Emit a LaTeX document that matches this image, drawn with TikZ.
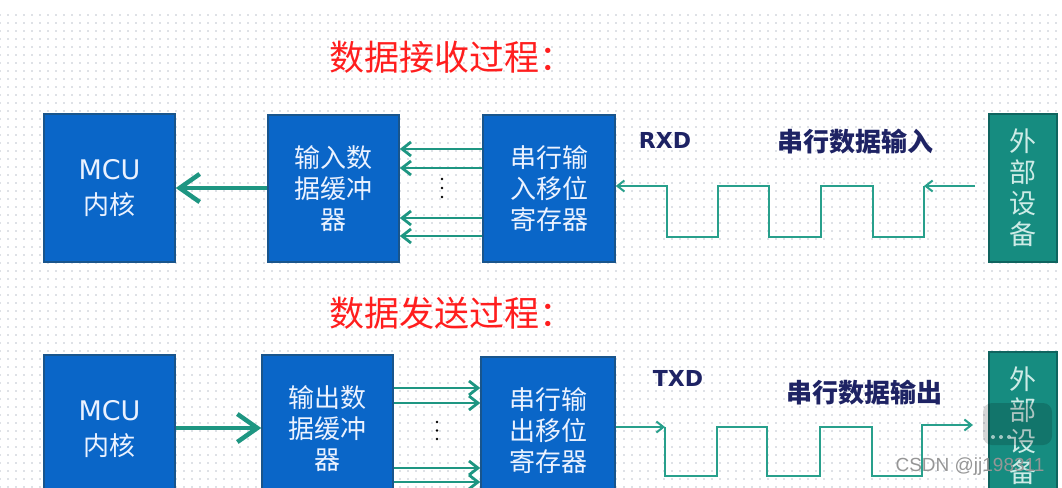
\documentclass[tikz,border=0pt]{standalone}
\usepackage{fontspec}
\setmainfont{Noto Sans CJK SC}
\newfontfamily\dejavu{DejaVu Sans}
\newfontfamily\arialf{Liberation Sans}
\usetikzlibrary{arrows.meta,patterns}
\definecolor{boxblue}{RGB}{10,102,200}
\definecolor{boxedge}{RGB}{25,85,140}
\definecolor{boxtext}{RGB}{235,242,255}
\definecolor{extteal}{RGB}{22,140,128}
\definecolor{extedge}{RGB}{15,100,95}
\definecolor{exttext}{RGB}{205,235,230}
\definecolor{arrowcol}{RGB}{30,150,130}
\definecolor{wavecol}{RGB}{40,160,140}
\definecolor{navy}{RGB}{30,35,100}
\definecolor{titlered}{RGB}{255,30,30}
\definecolor{dotgray}{RGB}{190,196,206}
\definecolor{wmgray}{RGB}{150,150,150}
\pgfdeclarepatternformonly{bgdots}{\pgfpoint{-1pt}{-1pt}}{\pgfpoint{1pt}{1pt}}{\pgfpoint{8pt}{8pt}}{\pgfpathcircle{\pgfpointorigin}{0.9pt}\pgfusepath{fill}}
\tikzset{
  blkbox/.style={draw=boxedge, line width=1.5pt, fill=boxblue, text=boxtext, align=center, inner sep=0pt,
    font=\fontsize{26}{31}\selectfont},
  extbox/.style={draw=extedge, line width=1.5pt, fill=extteal, text=exttext, align=center, inner sep=0pt,
    font=\fontsize{27}{31}\selectfont, minimum width=68pt, minimum height=148pt},
  bigarrow/.style={draw=arrowcol, line width=4.5pt, -{Straight Barb[length=20pt,width=28pt]}},
  busarrow/.style={draw=arrowcol, line width=2.8pt, -{Straight Barb[length=9pt,width=14pt]}},
  wave/.style={draw=wavecol, line width=2pt},
  wavearrow/.style={wave, -{Straight Barb[length=7pt,width=11pt]}},
  title/.style={text=titlered, font=\fontsize{35}{35}\selectfont},
  sig/.style={text=navy, font=\dejavu\bfseries\fontsize{22}{22}\selectfont},
  sigdesc/.style={text=navy, font=\bfseries\fontsize{26}{26}\selectfont},
  vdot/.style={fill=black, circle, inner sep=0pt, minimum size=2.6pt}
}
\begin{document}
\begin{tikzpicture}[x=1pt,y=-1pt]
\useasboundingbox (0,0) rectangle (1062,487);
\fill[white] (0,0) rectangle (1062,487);
\fill[pattern=bgdots, pattern color=dotgray] (0,15) rectangle (1062,487);

% titles
\node[title] (t1) at (452,57) {数据接收过程：};
\node[title] (t2) at (452,313) {数据发送过程：};

% ---------- receive ----------
\node[blkbox, minimum width=131pt, minimum height=148pt, font=\fontsize{26}{35}\selectfont] (mcu1) at (109.5,188) {{\dejavu\fontsize{27}{35}\selectfont MCU}\\内核};
\node[blkbox, minimum width=131pt, minimum height=147pt] (buf1) at (333.5,188.5) {输入数\\据缓冲\\器};
\node[blkbox, minimum width=132pt, minimum height=147pt] (sr1) at (549,188.5) {串行输\\入移位\\寄存器};
\node[extbox] (ext1) at (1023,188) {外\\部\\设\\备};

\draw[bigarrow] (buf1.west |- 0,188) -- (mcu1.east |- 0,188);
\foreach \yy in {149,168,218,236}{
  \draw[busarrow] (sr1.west |- 0,\yy) -- (buf1.east |- 0,\yy);
}
\node[vdot] (d1) at (442,179) {};
\node[vdot] (d2) at (442,188) {};
\node[vdot] (d3) at (442,197) {};

\node[sig] (rxd) at (665,140) {RXD};
\node[sigdesc] (rxdesc) at (855,142) {串行数据输入};

\coordinate (rin) at (975,186);
\coordinate (rc) at (924,186);
\draw[wavearrow] (rin) -- (rc);
\draw[wavearrow] (rc) -- (924,237) -- (873,237) -- (873,186) -- (821,186) -- (821,237) -- (769,237)
  -- (769,186) -- (718,186) -- (718,237) -- (667,237) -- (667,186) -- (sr1.east |- 0,186);

% ---------- transmit ----------
\node[blkbox, minimum width=131pt, minimum height=148pt, font=\fontsize{26}{35}\selectfont] (mcu2) at (109.5,429) {{\dejavu\fontsize{27}{35}\selectfont MCU}\\内核};
\node[blkbox, minimum width=131pt, minimum height=148pt] (buf2) at (327.5,429) {输出数\\据缓冲\\器};
\node[blkbox, minimum width=134pt, minimum height=148pt] (sr2) at (548,431) {串行输\\出移位\\寄存器};
\node[extbox] (ext2) at (1023,426) {外\\部\\设\\备};

\draw[bigarrow] (mcu2.east |- 0,428) -- (buf2.west |- 0,428);
\foreach \yy in {388,403,468,482}{
  \draw[busarrow] (buf2.east |- 0,\yy) -- (sr2.west |- 0,\yy);
}
\node[vdot] (d4) at (437,422) {};
\node[vdot] (d5) at (437,430.5) {};
\node[vdot] (d6) at (437,439) {};

\node[sig] (txd) at (678,378) {TXD};
\node[sigdesc] (txdesc) at (864,393) {串行数据输出};

\coordinate (tc) at (665,427);
\coordinate (tout) at (973,425);
\draw[wavearrow] (sr2.east |- 0,427) -- (tc);
\draw[wavearrow] (tc) -- (665,476) -- (717,476) -- (717,427) -- (767,427) -- (767,476) -- (820,476)
  -- (820,427) -- (872,427) -- (872,476) -- (922,476) -- (922,425) -- (tout);

% watermark
\fill[black, opacity=0.16, rounded corners=9pt] (983,403) rectangle (1052,445);
\foreach \xx in {993,1001,1009}{\fill[white, opacity=0.6] (\xx,437) circle (2pt);}
\node[text=wmgray, font=\arialf\fontsize{19}{19}\selectfont] (wm) at (970,467) {CSDN @jj198311};
\end{tikzpicture}
\end{document}
